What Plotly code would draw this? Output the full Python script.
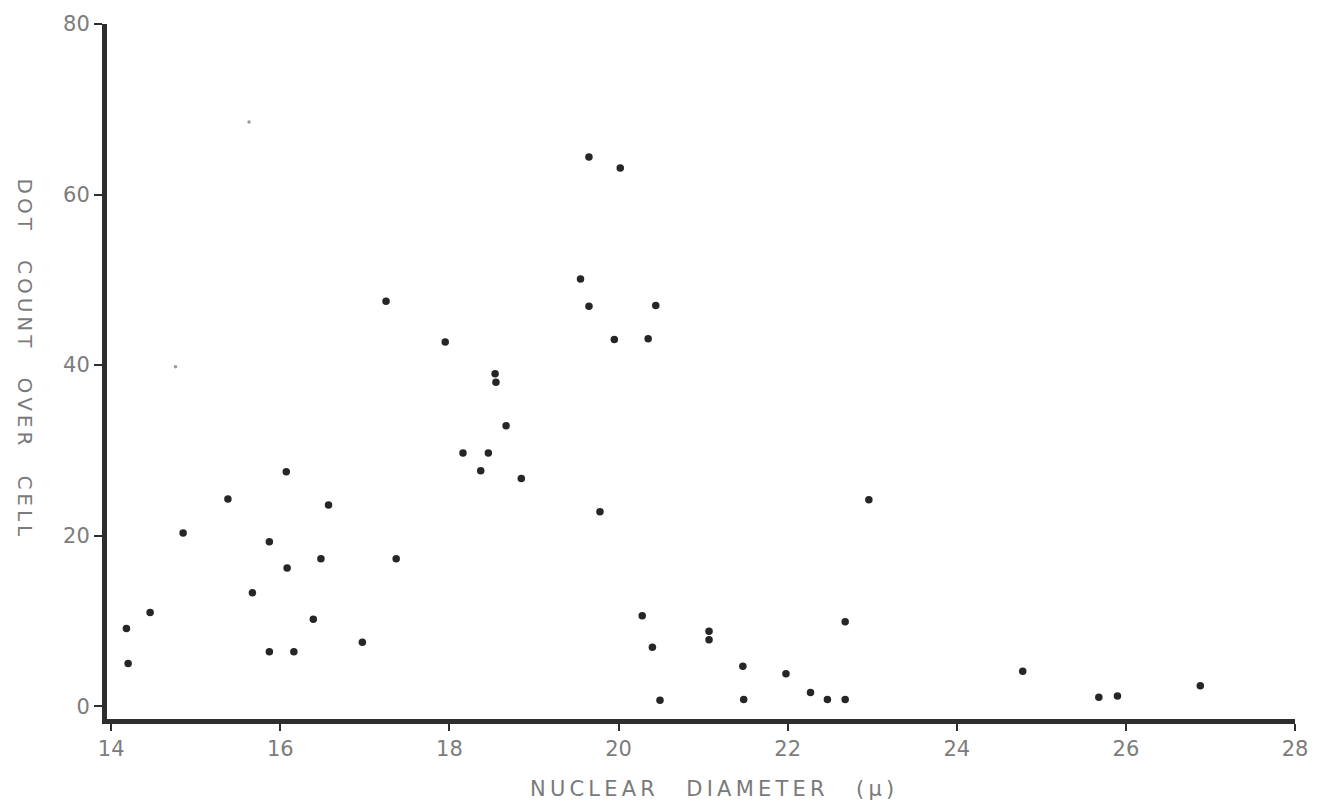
import plotly.graph_objects as go

# Nuclear diameter (microns) vs. dot count over cell
diameter = [
    14.18, 14.20, 14.46, 14.85, 15.38, 15.87, 15.67, 16.07, 16.08, 15.87,
    16.16, 16.39, 16.97, 16.48, 16.57, 17.25, 17.37, 17.95, 18.54, 18.55,
    18.67, 18.16, 18.46, 18.37, 18.85, 19.78, 19.55, 19.65, 19.65, 20.02,
    19.95, 20.35, 20.44, 20.28, 20.40, 20.49, 21.07, 21.07, 21.47, 21.48,
    21.98, 22.27, 22.47, 22.68, 22.68, 22.96, 24.78, 25.68, 25.90, 26.88,
]
dot_count = [
    9.1, 5.0, 11.0, 20.3, 24.3, 19.3, 13.3, 27.5, 16.2, 6.4,
    6.4, 10.2, 7.5, 17.3, 23.6, 47.5, 17.3, 42.7, 39.0, 38.0,
    32.9, 29.7, 29.7, 27.6, 26.7, 22.8, 50.1, 46.9, 64.4, 63.1,
    43.0, 43.1, 47.0, 10.6, 6.9, 0.7, 8.8, 7.8, 4.7, 0.8,
    3.8, 1.6, 0.8, 0.8, 9.9, 24.2, 4.1, 1.05, 1.2, 2.4,
]

# Faintly marked cells
faint_diameter = [15.63, 14.76]
faint_count = [68.5, 39.8]

x_ticks = [14, 16, 18, 20, 22, 24, 26, 28]
y_ticks = [0, 20, 40, 60, 80]


def spaced(text, gap="\u2009"):
    return gap.join(text)


fig = go.Figure()
fig.add_trace(go.Scatter(
    x=diameter, y=dot_count, mode="markers",
    marker=dict(size=7.5, color="#262626"),
    showlegend=False, hoverinfo="x+y",
))
fig.add_trace(go.Scatter(
    x=faint_diameter, y=faint_count, mode="markers",
    marker=dict(size=3.5, color="#9a9a9a"),
    showlegend=False, hoverinfo="x+y",
))

label_font = dict(family="DejaVu Sans", size=21, color="#7c7c7c")

fig.update_xaxes(
    range=[13.95, 28.0], tickvals=x_ticks, ticktext=[str(v) for v in x_ticks],
    showline=True, linewidth=5, linecolor="#2e2e2e", mirror=False,
    ticks="outside", ticklen=7, tickwidth=2, tickcolor="#2e2e2e",
    showgrid=False, zeroline=False, tickfont=label_font,
)
fig.update_yaxes(
    range=[-1.5, 80], tickvals=y_ticks, ticktext=[str(v) for v in y_ticks],
    showline=True, linewidth=5, linecolor="#2e2e2e", mirror=False,
    ticks="outside", ticklen=8, tickwidth=2, tickcolor="#2e2e2e",
    showgrid=False, zeroline=False, tickfont=label_font,
)

word_gap = "\u2003\u2002"
fig.add_annotation(
    text=word_gap.join(spaced(w) for w in ["NUCLEAR", "DIAMETER", "(μ)"]),
    xref="paper", yref="paper", x=(712 - 107) / 1188, y=-(790 - 719) / 700,
    showarrow=False, font=dict(family="DejaVu Sans", size=21, color="#7a7a7a"),
    xanchor="center", yanchor="middle",
)
fig.add_annotation(
    text=word_gap.join(spaced(w) for w in ["DOT", "COUNT", "OVER", "CELL"]),
    xref="paper", yref="paper", x=-(107 - 25) / 1188, y=(719 - 355) / 700,
    showarrow=False, textangle=90,
    font=dict(family="DejaVu Sans", size=20, color="#7a7a7a"),
    xanchor="center", yanchor="middle",
)

fig.update_layout(
    width=1323, height=809,
    margin=dict(l=107, r=28, t=19, b=90),
    paper_bgcolor="white", plot_bgcolor="white",
)

fig.write_html("out.html")
